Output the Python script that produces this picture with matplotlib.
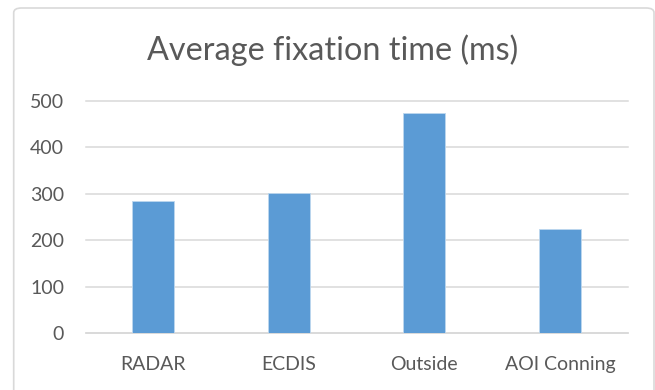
import matplotlib
matplotlib.use("Agg")
import matplotlib.pyplot as plt
from matplotlib.patches import FancyBboxPatch

# average fixation time per area of interest (ms)
categories = ["RADAR", "ECDIS", "Outside", "AOI Conning"]
fixation_ms = [285, 301, 475, 225]
y_ticks = [0, 100, 200, 300, 400, 500]

plt.rcParams['font.family'] = ['Lato', 'DejaVu Sans']
text_color = '#595959'
grid_color = '#d9d9d9'
bar_color = '#5b9bd5'

W, H = 655, 390
fig = plt.figure(figsize=(W / 100, H / 100), dpi=100)

# chart frame (rounded, runs off the bottom of the picture)
frame = FancyBboxPatch((13.7 / W, -0.05), (654 - 13.7) / W, 1.05 - 8 / H,
                       boxstyle="round,pad=0,rounding_size=0.012",
                       transform=fig.transFigure, facecolor='white',
                       edgecolor=grid_color, linewidth=1.2, zorder=-10)
fig.patches.append(frame)

left, right = 85.5 / W, 627.7 / W
bottom, top = 1 - 333.3 / H, 1 - 101 / H
ax = fig.add_axes([left, bottom, right - left, top - bottom])
ax.set_facecolor('none')

x = range(len(categories))
ax.bar(x, fixation_ms, width=0.31, color=bar_color,
       edgecolor='#bdd7ee', linewidth=0.6, zorder=3)

ax.set_xlim(-0.5, len(categories) - 0.5)
ax.set_ylim(0, 500)
ax.set_yticks(y_ticks)
ax.set_xticks(list(x))
ax.set_xticklabels(categories)

for s in ['left', 'right', 'top']:
    ax.spines[s].set_visible(False)
ax.spines['bottom'].set_color(grid_color)
ax.spines['bottom'].set_linewidth(1.1)

ax.yaxis.grid(True, color=grid_color, linewidth=1.1, zorder=0)
for gl in ax.yaxis.get_gridlines():
    gl.set_clip_on(False)
ax.tick_params(axis='both', length=0, labelsize=14, colors=text_color)
ax.tick_params(axis='y', pad=15.5)
ax.tick_params(axis='x', pad=16)

fig.text((146.7 + 518) / 2 / W, 1 - 60 / H, "Average fixation time (ms)",
         ha='center', va='baseline', fontsize=23.3, color=text_color)

fig.savefig("out.png", dpi=100)
